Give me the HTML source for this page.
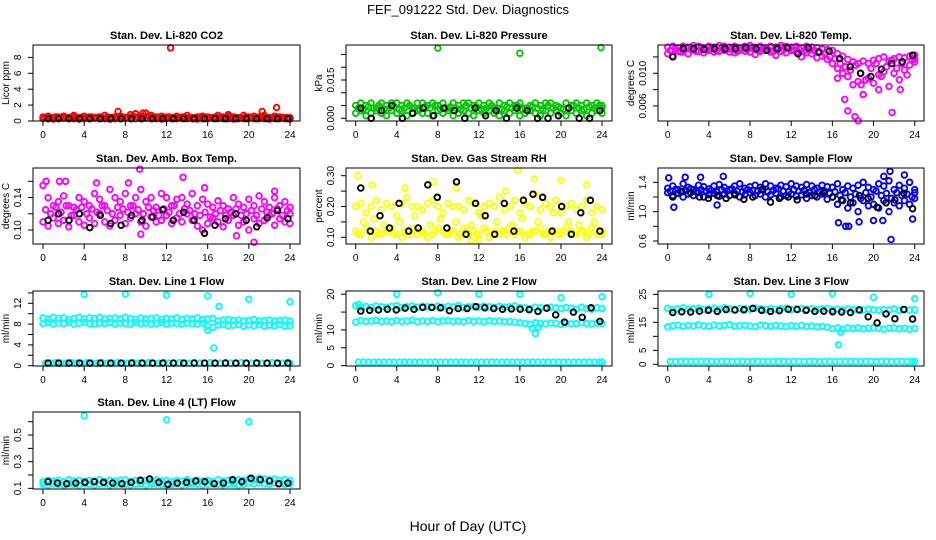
<!DOCTYPE html>
<html><head><meta charset="utf-8"><style>
html,body{margin:0;padding:0;background:#fff;}
svg{display:block;font-family:"Liberation Sans",sans-serif;}
</style></head><body>
<svg id="c" width="936" height="540" viewBox="0 0 936 540">
<text x="468" y="14" text-anchor="middle" font-size="13">FEF_091222  Std. Dev. Diagnostics</text>
<text x="468" y="531" text-anchor="middle" font-size="14">Hour of Day (UTC)</text>
</svg>
<script>
// ---- data (hours categories) ----
const xTicks=[0,4,8,12,16,20,24];
// CO2
const co2A=[0.5,0.6,0.4,0.5,0.6,0.4,0.5,0.4,0.6,0.5,0.4,0.5,0.7,0.4,0.5,0.6,0.4,0.8,0.9,0.6,1.0,0.7,0.5,0.6,0.5,0.4,0.6,0.5,0.7,0.4,0.5,0.6,0.5,0.4,0.7,0.5,0.6,0.5,0.4,0.7,0.5,0.6,0.5,0.7,0.4,0.6,0.5,0.4,0.3];
const co2B=[0.3,0.3,0.25,0.3,0.35,0.3,0.3,0.25,0.3,0.3,0.35,0.3,0.3,0.25,0.3,0.3,0.35,0.3,0.3,0.3,0.35,0.3,0.3,0.25,0.3,0.3,0.3,0.35,0.3,0.3,0.25,0.3,0.3,0.35,0.3,0.3,0.3,0.25,0.3,0.3,0.35,0.3,0.3,0.3,0.25,0.3,0.3,0.3,0.25];
const co2C=[0.4,0.45,0.5,0.4,0.45,0.5,0.4,0.45,0.4,0.5,0.45,0.4,0.5,0.45,0.4,0.5,0.45,0.6,0.5,0.45,0.6,0.5,0.45,0.4,0.5,0.45,0.4,0.5,0.45,0.4,0.5,0.45,0.4,0.5,0.45,0.4,0.5,0.45,0.4,0.5,0.45,0.4,0.5,0.45,0.4,0.5,0.45,0.4,0.4];
const co2Out=[[12.4,9.2],[22.7,1.7],[21.3,1.2],[9.7,1.0],[7.3,1.2],[3.0,0.7],[18,0.8]];
const co2K=[0.3,0.3,0.3,0.3,0.3,0.3,0.3,0.3,0.3,0.3,0.3,0.3,0.3,0.3,0.3,0.3,0.3,0.3,0.3,0.3,0.3,0.3,0.3,0.3];
// Pressure
const prA=[0.005,0.006,0.005,0.006,0.004,0.006,0.005,0.006,0.006,0.005,0.006,0.004,0.006,0.006,0.005,0.006,0.005,0.006,0.004,0.006,0.005,0.006,0.006,0.005,0.006,0.005,0.006,0.004,0.006,0.005,0.006,0.005,0.006,0.004,0.005,0.006,0.005,0.006,0.006,0.005,0.004,0.006,0.005,0.006,0.005,0.006,0.005,0.006,0.005];
const prB=[0.002,0.003,0.001,0.002,0.003,0.002,0.001,0.003,0.002,0.003,0.001,0.002,0.003,0.002,0.002,0.001,0.003,0.002,0.003,0.001,0.002,0.003,0.002,0.001,0.003,0.002,0.003,0.002,0.001,0.003,0.002,0.003,0.001,0.002,0.003,0.002,0.001,0.003,0.002,0.003,0.002,0.001,0.003,0.002,0.003,0.001,0.002,0.003,0.002];
const prC=[0.004,0.0035,0.0045,0.004,0.005,0.0035,0.004,0.0045,0.0035,0.004,0.005,0.004,0.0035,0.0045,0.004,0.005,0.0035,0.004,0.0045,0.004,0.0035,0.005,0.004,0.0045,0.0035,0.004,0.005,0.004,0.0035,0.0045,0.004,0.005,0.0035,0.004,0.0045,0.004,0.0035,0.005,0.004,0.0045,0.0035,0.004,0.005,0.004,0.0035,0.0045,0.004,0.005,0.004];
const prOut=[[8,0.0275],[16,0.0255],[23.9,0.0277]];
const prK=[0.004,0.000,0.003,0.005,0.000,0.002,0.004,0.001,0.004,0.003,0.000,0.004,0.001,0.003,0.000,0.004,0.003,0.000,0.000,0.001,0.004,0.000,0.000,0.003];
// Li-820 temp
const ltA=[0.0132,0.0133,0.0131,0.0133,0.0132,0.0134,0.0133,0.0131,0.0133,0.0132,0.0134,0.0133,0.0132,0.0133,0.0131,0.0133,0.0134,0.0132,0.0133,0.0131,0.0133,0.0132,0.0134,0.0133,0.0132,0.0133,0.0131,0.0133,0.0132,0.0131,0.0130,0.0129,0.0128,0.0124,0.0121,0.0117,0.0114,0.0112,0.0115,0.0112,0.0116,0.0118,0.0120,0.0115,0.0118,0.0120,0.0119,0.0121,0.0122];
const ltB=[0.0124,0.0121,0.0127,0.0126,0.0124,0.0129,0.0127,0.0125,0.0128,0.0126,0.0127,0.0128,0.0126,0.0125,0.0128,0.0127,0.0126,0.0123,0.0127,0.0128,0.0126,0.0122,0.0127,0.0125,0.0128,0.0126,0.0120,0.0125,0.0124,0.0119,0.0121,0.0117,0.0112,0.0106,0.0100,0.0096,0.0086,0.0090,0.0074,0.0094,0.0088,0.0098,0.0102,0.0084,0.0100,0.0092,0.0104,0.0110,0.0114];
const ltC=[0.0128,0.0130,0.0126,0.0131,0.0129,0.0127,0.0131,0.0129,0.0130,0.0128,0.0131,0.0129,0.0130,0.0127,0.0130,0.0129,0.0131,0.0128,0.0130,0.0129,0.0127,0.0130,0.0129,0.0131,0.0128,0.0130,0.0127,0.0129,0.0128,0.0126,0.0124,0.0120,0.0118,0.0112,0.0108,0.0104,0.0110,0.0100,0.0092,0.0106,0.0112,0.0096,0.0108,0.0116,0.0106,0.0112,0.0098,0.0116,0.0118];
const ltOut=[[17.5,0.0054],[18.2,0.0047],[18.5,0.0042],[21.8,0.0052],[17.2,0.0068],[19,0.0074],[16.5,0.0094],[20.5,0.0080],[22.6,0.0080],[18.8,0.0086]];
const ltK=[0.0120,0.0130,0.0130,0.0129,0.0130,0.0130,0.0130,0.0131,0.0130,0.0128,0.0130,0.0131,0.0124,0.0131,0.0126,0.0127,0.0118,0.0108,0.0100,0.0096,0.0105,0.0112,0.0114,0.0122];
// Amb box temp
const abA=[0.155,0.14,0.13,0.135,0.142,0.13,0.128,0.14,0.135,0.13,0.145,0.138,0.13,0.15,0.14,0.135,0.145,0.13,0.14,0.15,0.135,0.14,0.128,0.145,0.14,0.13,0.138,0.14,0.132,0.145,0.13,0.138,0.132,0.128,0.136,0.13,0.126,0.14,0.132,0.128,0.138,0.13,0.142,0.135,0.128,0.14,0.13,0.135,0.128];
const abB=[0.11,0.105,0.115,0.108,0.112,0.104,0.118,0.11,0.106,0.115,0.108,0.12,0.11,0.105,0.112,0.118,0.108,0.115,0.12,0.11,0.105,0.116,0.11,0.112,0.118,0.108,0.115,0.11,0.12,0.112,0.105,0.1,0.108,0.115,0.11,0.104,0.112,0.118,0.106,0.11,0.1,0.114,0.108,0.112,0.118,0.106,0.114,0.11,0.108];
const abC=[0.125,0.12,0.128,0.122,0.13,0.118,0.125,0.128,0.12,0.126,0.122,0.13,0.124,0.12,0.128,0.126,0.122,0.13,0.125,0.12,0.128,0.124,0.118,0.126,0.122,0.13,0.12,0.126,0.124,0.12,0.118,0.122,0.116,0.12,0.124,0.118,0.122,0.126,0.118,0.12,0.124,0.118,0.126,0.122,0.12,0.126,0.118,0.124,0.12];
const abOut=[[9.4,0.175],[2.2,0.16],[20.5,0.085],[9.5,0.095],[13.6,0.165],[0.3,0.16],[5.2,0.158],[8.3,0.158],[15.7,0.152],[22.5,0.148],[18.8,0.093],[1.6,0.16]];
const abK=[0.112,0.12,0.112,0.12,0.103,0.118,0.108,0.106,0.118,0.112,0.116,0.125,0.112,0.122,0.112,0.096,0.106,0.114,0.12,0.112,0.104,0.115,0.124,0.114];
// Gas stream RH
const rhA=[0.2,0.21,0.18,0.2,0.22,0.19,0.21,0.2,0.17,0.21,0.23,0.2,0.2,0.19,0.21,0.22,0.2,0.18,0.21,0.2,0.2,0.19,0.22,0.21,0.18,0.2,0.21,0.2,0.23,0.19,0.2,0.22,0.18,0.21,0.2,0.24,0.19,0.21,0.2,0.22,0.18,0.2,0.21,0.19,0.2,0.22,0.18,0.2,0.19];
const rhB=[0.12,0.11,0.13,0.1,0.12,0.11,0.12,0.13,0.11,0.1,0.12,0.13,0.11,0.12,0.1,0.11,0.13,0.12,0.11,0.12,0.1,0.13,0.11,0.12,0.11,0.13,0.1,0.12,0.11,0.12,0.13,0.11,0.12,0.1,0.11,0.12,0.13,0.11,0.1,0.12,0.11,0.13,0.12,0.11,0.12,0.1,0.13,0.11,0.12];
const rhC=[0.11,0.15,0.12,0.16,0.11,0.14,0.12,0.11,0.15,0.12,0.11,0.17,0.12,0.11,0.14,0.12,0.16,0.11,0.12,0.15,0.11,0.12,0.14,0.11,0.17,0.12,0.11,0.15,0.12,0.11,0.14,0.12,0.16,0.11,0.12,0.15,0.11,0.12,0.18,0.11,0.12,0.15,0.11,0.14,0.12,0.11,0.15,0.12,0.11];
const rhOut=[[0.2,0.3],[15.8,0.318],[17.4,0.29],[20.0,0.285],[7.6,0.28],[9.8,0.26],[14.6,0.25],[11.2,0.09],[12.0,0.09],[4.8,0.26],[22.5,0.27],[1.6,0.27]];
const rhK=[0.26,0.12,0.17,0.13,0.21,0.12,0.13,0.27,0.23,0.13,0.28,0.11,0.21,0.17,0.11,0.21,0.12,0.22,0.24,0.23,0.12,0.2,0.11,0.18,0.22,0.12];
// Sample flow
const sfA=[1.32,1.35,1.3,1.38,1.33,1.3,1.36,1.34,1.31,1.35,1.37,1.33,1.3,1.35,1.38,1.32,1.34,1.36,1.33,1.38,1.35,1.32,1.36,1.34,1.38,1.35,1.33,1.37,1.35,1.32,1.36,1.34,1.33,1.38,1.3,1.35,1.32,1.36,1.4,1.33,1.3,1.38,1.35,1.42,1.3,1.36,1.32,1.4,1.3];
const sfB=[1.26,1.22,1.25,1.2,1.24,1.22,1.26,1.2,1.23,1.25,1.21,1.24,1.22,1.25,1.2,1.23,1.26,1.22,1.24,1.2,1.23,1.25,1.2,1.22,1.24,1.21,1.23,1.18,1.22,1.2,1.24,1.17,1.2,1.1,1.15,1.05,1.12,1.0,1.15,1.08,1.1,1.05,1.15,1.0,1.12,1.08,1.15,1.1,1.18];
const sfC=[1.28,1.3,1.27,1.29,1.31,1.27,1.3,1.28,1.29,1.27,1.3,1.28,1.31,1.28,1.27,1.3,1.29,1.28,1.3,1.27,1.29,1.31,1.28,1.27,1.3,1.28,1.29,1.26,1.3,1.27,1.28,1.25,1.27,1.22,1.26,1.2,1.24,1.18,1.26,1.2,1.28,1.22,1.25,1.18,1.26,1.22,1.24,1.2,1.26];
const sfOut=[[0.1,1.46],[1.7,1.47],[3.2,1.47],[5.4,1.48],[0.6,1.06],[4.8,1.09],[16.6,0.85],[17.3,0.8],[17.6,0.8],[18.6,0.86],[20.0,0.88],[20.9,0.88],[21.7,0.62],[21.6,1.55],[23.0,1.5],[23.8,0.9],[21.0,1.48]];
const sfK=[1.2,1.27,1.26,1.2,1.18,1.22,1.18,1.23,1.17,1.2,1.3,1.13,1.18,1.2,1.16,1.24,1.22,1.26,1.2,1.16,1.12,1.22,1.18,1.06,1.12,1.16,1.25,1.04];
// Line 1 flow
const l1A=[9.2,9.0,9.3,9.1,9.2,8.9,9.1,9.3,9.0,9.2,9.1,9.3,9.0,9.1,9.2,9.0,9.3,9.1,8.9,9.2,9.0,9.1,9.2,8.9,9.1,9.0,9.2,8.9,9.1,9.0,9.2,8.9,9.0,9.1,8.6,8.8,8.9,8.7,8.8,8.6,8.7,8.9,8.6,8.7,8.8,8.6,8.7,8.8,8.6];
const l1B=[8.1,8.3,8.0,8.2,8.1,8.3,8.0,8.2,8.3,8.1,8.0,8.2,8.1,8.3,8.0,8.2,8.1,8.0,8.3,8.1,8.2,8.0,8.1,8.3,8.0,8.2,8.1,8.0,8.2,8.1,8.0,8.2,7.6,7.4,7.8,7.9,7.7,7.8,7.9,7.6,7.8,7.7,7.9,7.6,7.8,7.7,7.9,7.6,7.7];
const l1C=[0.5,0.5,0.6,0.5,0.5,0.6,0.5,0.5,0.6,0.5,0.5,0.6,0.5,0.5,0.6,0.5,0.5,0.6,0.5,0.5,0.6,0.5,0.5,0.6,0.5,0.5,0.6,0.5,0.5,0.6,0.5,0.5,0.6,0.5,0.5,0.6,0.5,0.5,0.6,0.5,0.5,0.6,0.5,0.5,0.6,0.5,0.5,0.6,0.5];
const l1Out=[[4,13.7],[8,13.8],[12,13.6],[16,13.4],[17.1,11.4],[20,12.8],[24,12.3],[16.6,3.4],[16,6.8]];
const l1K=[0.5,0.5,0.5,0.5,0.5,0.5,0.5,0.5,0.5,0.5,0.5,0.5,0.5,0.5,0.5,0.5,0.5,0.5,0.5,0.5,0.5,0.5,0.5,0.5];
// Line 2 flow
const l2A=[16.8,16.4,16.6,16.3,16.7,16.5,16.4,16.6,16.8,16.3,16.5,16.7,16.4,16.6,16.5,16.3,16.7,16.4,16.6,16.5,16.8,16.3,16.5,16.6,16.4,16.7,16.5,16.3,16.6,16.4,16.5,16.7,16.3,16.2,16.0,16.4,16.2,16.1,16.4,16.2,16.0,16.3,16.1,15.8,16.4,16.0,15.8,16.2,16.0];
const l2B=[12.2,12.6,12.4,12.5,12.7,12.4,12.5,12.3,12.6,12.4,12.5,12.7,12.3,12.5,12.4,12.6,12.3,12.5,12.6,12.4,12.5,12.3,12.6,12.4,12.5,12.3,12.6,12.4,12.5,12.3,12.4,12.2,12.0,11.8,11.6,12.0,11.8,11.7,11.9,11.8,11.6,11.9,11.7,11.8,12.0,11.8,11.7,11.9,11.8];
const l2C=[1,1,1,1,1,1,1,1,1,1,1,1,1,1,1,1,1,1,1,1,1,1,1,1,1,1,1,1,1,1,1,1,1,1,1,1,1,1,1,1,1,1,1,1,1,1,1,1,1];
const l2Out=[[4,20],[8,20.4],[12,20],[16,20],[20,19],[24,19.3],[17.5,9],[17.2,10.5],[17.8,10.8],[0.3,17.2]];
const l2K=[15.3,15.5,15.6,15.8,15.6,16.1,15.8,16.3,16.3,16.2,15.4,16.0,16.0,16.5,16.2,16.0,15.8,15.9,15.8,15.7,15.2,16.1,14.2,12.2,15.0,13.5,16.2,12.4];
// Line 3 flow
const l3A=[20.0,19.6,19.8,20.2,19.7,19.9,20.1,19.6,19.8,20.0,19.7,20.2,19.8,19.6,20.0,19.9,19.7,20.1,19.8,19.6,20.0,19.7,19.9,20.1,19.6,19.8,20.0,19.7,19.9,19.6,19.8,20.0,19.5,19.7,19.4,19.8,19.5,19.6,19.4,19.7,19.5,19.3,19.6,19.4,19.8,19.3,19.6,19.4,19.5];
const l3B=[13.4,13.8,14.0,13.6,13.9,13.7,14.1,13.8,13.6,14.0,13.7,13.9,14.2,13.6,13.8,13.9,13.7,13.5,14.0,13.8,13.6,13.9,13.7,13.5,13.8,13.6,13.9,13.5,13.7,13.4,13.6,13.3,12.8,13.0,12.6,13.1,12.8,13.0,12.7,12.9,13.1,12.8,12.6,12.9,13.0,12.7,12.9,12.6,12.8];
const l3C=[1,1,1,1,1,1,1,1,1,1,1,1,1,1,1,1,1,1,1,1,1,1,1,1,1,1,1,1,1,1,1,1,1,1,1,1,1,1,1,1,1,1,1,1,1,1,1,1,1];
const l3Out=[[4,25],[8,25.3],[12,25],[16,25.3],[20,24],[24,23.5],[16.6,7],[16.8,11.5]];
const l3K=[18.5,18.8,18.7,19.0,19.3,18.9,19.6,19.4,19.5,20.0,19.3,18.9,19.2,19.7,19.6,19.3,18.9,19.0,18.8,18.7,18.5,19.4,17.0,14.8,18.0,16.3,19.6,16.2];
// Line 4 flow
const l4A=[0.15,0.16,0.155,0.16,0.15,0.165,0.155,0.16,0.15,0.16,0.155,0.165,0.15,0.16,0.155,0.16,0.165,0.15,0.16,0.155,0.16,0.15,0.165,0.155,0.16,0.15,0.16,0.155,0.165,0.15,0.16,0.155,0.16,0.15,0.165,0.155,0.16,0.15,0.165,0.16,0.17,0.165,0.175,0.17,0.165,0.17,0.16,0.165,0.16];
const l4B=[0.13,0.125,0.135,0.13,0.125,0.135,0.13,0.125,0.135,0.13,0.125,0.13,0.135,0.125,0.13,0.135,0.13,0.125,0.13,0.135,0.125,0.13,0.135,0.13,0.125,0.13,0.135,0.125,0.13,0.135,0.13,0.125,0.13,0.135,0.13,0.125,0.13,0.135,0.125,0.13,0.14,0.135,0.14,0.135,0.13,0.14,0.135,0.13,0.135];
const l4Out=[[4,0.645],[12,0.615],[20,0.6]];
const l4K=[0.15,0.14,0.135,0.14,0.145,0.15,0.145,0.14,0.135,0.145,0.16,0.17,0.145,0.13,0.14,0.145,0.155,0.15,0.135,0.14,0.165,0.15,0.175,0.165,0.155,0.135,0.14];

// ---- layout ----
const NS='http://www.w3.org/2000/svg';
const svg=document.getElementById('c');
const cols=[{l:33,r:300,x0:43,x24:290},{l:346,r:612,x0:355.7,x24:602},{l:658,r:924,x0:667.7,x24:914.7}];
const rows=[{t:45,b:121},{t:168,b:244},{t:291,b:366},{t:412,b:489}];
function mk(tag,attrs,parent){const e=document.createElementNS(NS,tag);for(const k in attrs)e.setAttribute(k,attrs[k]);(parent||svg).appendChild(e);return e;}
function evenHours(n,off){const h=[];for(let i=0;i<n;i++)h.push(Math.min(24,24*i/(n-1)+off));return h;}
function kHours(n){const h=[];for(let i=0;i<n;i++)h.push(0.5+23.3*i/(n-1));return h;}

function panel(o){
  const c=cols[o.col],r=rows[o.row];
  const g=mk('g',{});
  
  
  const xs=h=>c.x0+(c.x24-c.x0)*h/24;
  const ys=v=>r.b-(v-o.lo)/(o.hi-o.lo)*(r.b-r.t);
  const t=mk('text',{x:(c.l+c.r)/2,y:r.t-6,'text-anchor':'middle','font-size':11,'font-weight':'bold'},g);
  t.textContent=o.title;
  
  
  const pts=mk('g',{fill:'none','stroke-width':1.9},g);
  
  
  function dot(h,v,col){
    const y=ys(v);if(y<r.t-1||y>r.b+1)return;
    const e=mk('circle',{cx:xs(h).toFixed(1),cy:y.toFixed(1),r:2.8,stroke:col},pts);
    
    
  }
  o.series.forEach((s,si)=>{const hs=evenHours(s.length,si===2?0.25:0);s.forEach((v,i)=>dot(hs[i],v,o.color));});
  o.out.forEach(p=>dot(p[0],p[1],o.color));
  const kh=kHours(o.k.length);o.k.forEach((v,i)=>dot(kh[i],v,'#000'));
  const box=mk('rect',{x:c.l,y:r.t,width:c.r-c.l,height:r.b-r.t,fill:'none',stroke:'#000','stroke-width':1},g);
  
  
  xTicks.forEach(h=>{
    mk('line',{x1:xs(h),x2:xs(h),y1:r.b,y2:r.b+5,stroke:'#000'},g);
    const tx=mk('text',{x:xs(h),y:r.b+17,'text-anchor':'middle','font-size':10},g);
    tx.textContent=h;
    
    
  });
  o.yt.forEach(v=>{const y=ys(v);mk('line',{x1:c.l-5,x2:c.l,y1:y,y2:y,stroke:'#000'},g);});
  o.yl.forEach(s=>{const y=ys(parseFloat(s));
    const tx=mk('text',{x:c.l-12,y:y,'text-anchor':'middle','font-size':10,transform:`rotate(-90 ${c.l-12} ${y})`},g);
    tx.textContent=s;
    
    
  });
  const ym=(r.t+r.b)/2,yx=c.l-24;
  const yt=mk('text',{x:yx,y:ym,'text-anchor':'middle','font-size':10,transform:`rotate(-90 ${yx} ${ym})`},g);
  yt.textContent=o.ylab;
  
  
}
function range(a,b,s){const o=[];for(let v=a;v<=b+1e-9;v+=s)o.push(+v.toFixed(4));return o;}

panel({name:'panel-co2',col:0,row:0,title:'Stan. Dev. Li-820 CO2',ylab:'Licor ppm',lo:0,hi:9.56,color:'#ff0000',series:[co2A,co2B,co2C],out:co2Out,k:co2K,yt:range(0,8,2),yl:['0','2','4','6','8']});
panel({name:'panel-pressure',col:1,row:0,title:'Stan. Dev. Li-820 Pressure',ylab:'kPa',lo:-0.00106,hi:0.0287,color:'#00c800',series:[prA,prB,prC],out:prOut,k:prK,yt:range(0,0.025,0.005),yl:['0.000','0.015']});
panel({name:'panel-li820-temp',col:2,row:0,title:'Stan. Dev. Li-820 Temp.',ylab:'degrees C',lo:0.00416,hi:0.01346,color:'#ff00ff',series:[ltA,ltB,ltC],out:ltOut,k:ltK,yt:range(0.006,0.012,0.002),yl:['0.006','0.010']});
panel({name:'panel-amb-box-temp',col:0,row:1,title:'Stan. Dev. Amb. Box Temp.',ylab:'degrees C',lo:0.0828,hi:0.1764,color:'#ff00ff',series:[abA,abB,abC],out:abOut,k:abK,yt:range(0.10,0.16,0.02),yl:['0.10','0.14']});
panel({name:'panel-gas-rh',col:1,row:1,title:'Stan. Dev. Gas Stream RH',ylab:'percent',lo:0.0782,hi:0.325,color:'#ffff00',series:[rhA,rhB,rhC],out:rhOut,k:rhK,yt:range(0.10,0.30,0.05),yl:['0.10','0.20','0.30']});
panel({name:'panel-sample-flow',col:2,row:1,title:'Stan. Dev. Sample Flow',ylab:'ml/min',lo:0.559,hi:1.595,color:'#0000ff',series:[sfA,sfB,sfC],out:sfOut,k:sfK,yt:range(0.6,1.4,0.2),yl:['0.6','1.0','1.4']});
panel({name:'panel-line1-flow',col:0,row:2,title:'Stan. Dev. Line 1 Flow',ylab:'ml/min',lo:-0.06,hi:14.37,color:'#00ffff',series:[l1A,l1B,l1C],out:l1Out,k:l1K,yt:range(0,14,2),yl:['0','4','8','12']});
panel({name:'panel-line2-flow',col:1,row:2,title:'Stan. Dev. Line 2 Flow',ylab:'ml/min',lo:-0.1,hi:20.9,color:'#00ffff',series:[l2A,l2B,l2C],out:l2Out,k:l2K,yt:range(0,20,5),yl:['0','5','10','20']});
panel({name:'panel-line3-flow',col:2,row:2,title:'Stan. Dev. Line 3 Flow',ylab:'ml/min',lo:-0.6,hi:26.2,color:'#00ffff',series:[l3A,l3B,l3C],out:l3Out,k:l3K,yt:range(0,25,5),yl:['0','5','15','25']});
panel({name:'panel-line4-flow',col:0,row:3,title:'Stan. Dev. Line 4 (LT) Flow',ylab:'ml/min',lo:0.095,hi:0.673,color:'#00ffff',series:[l4A,l4B],out:l4Out,k:l4K,yt:range(0.1,0.6,0.1),yl:['0.1','0.3','0.5']});
</script>
</body></html>
